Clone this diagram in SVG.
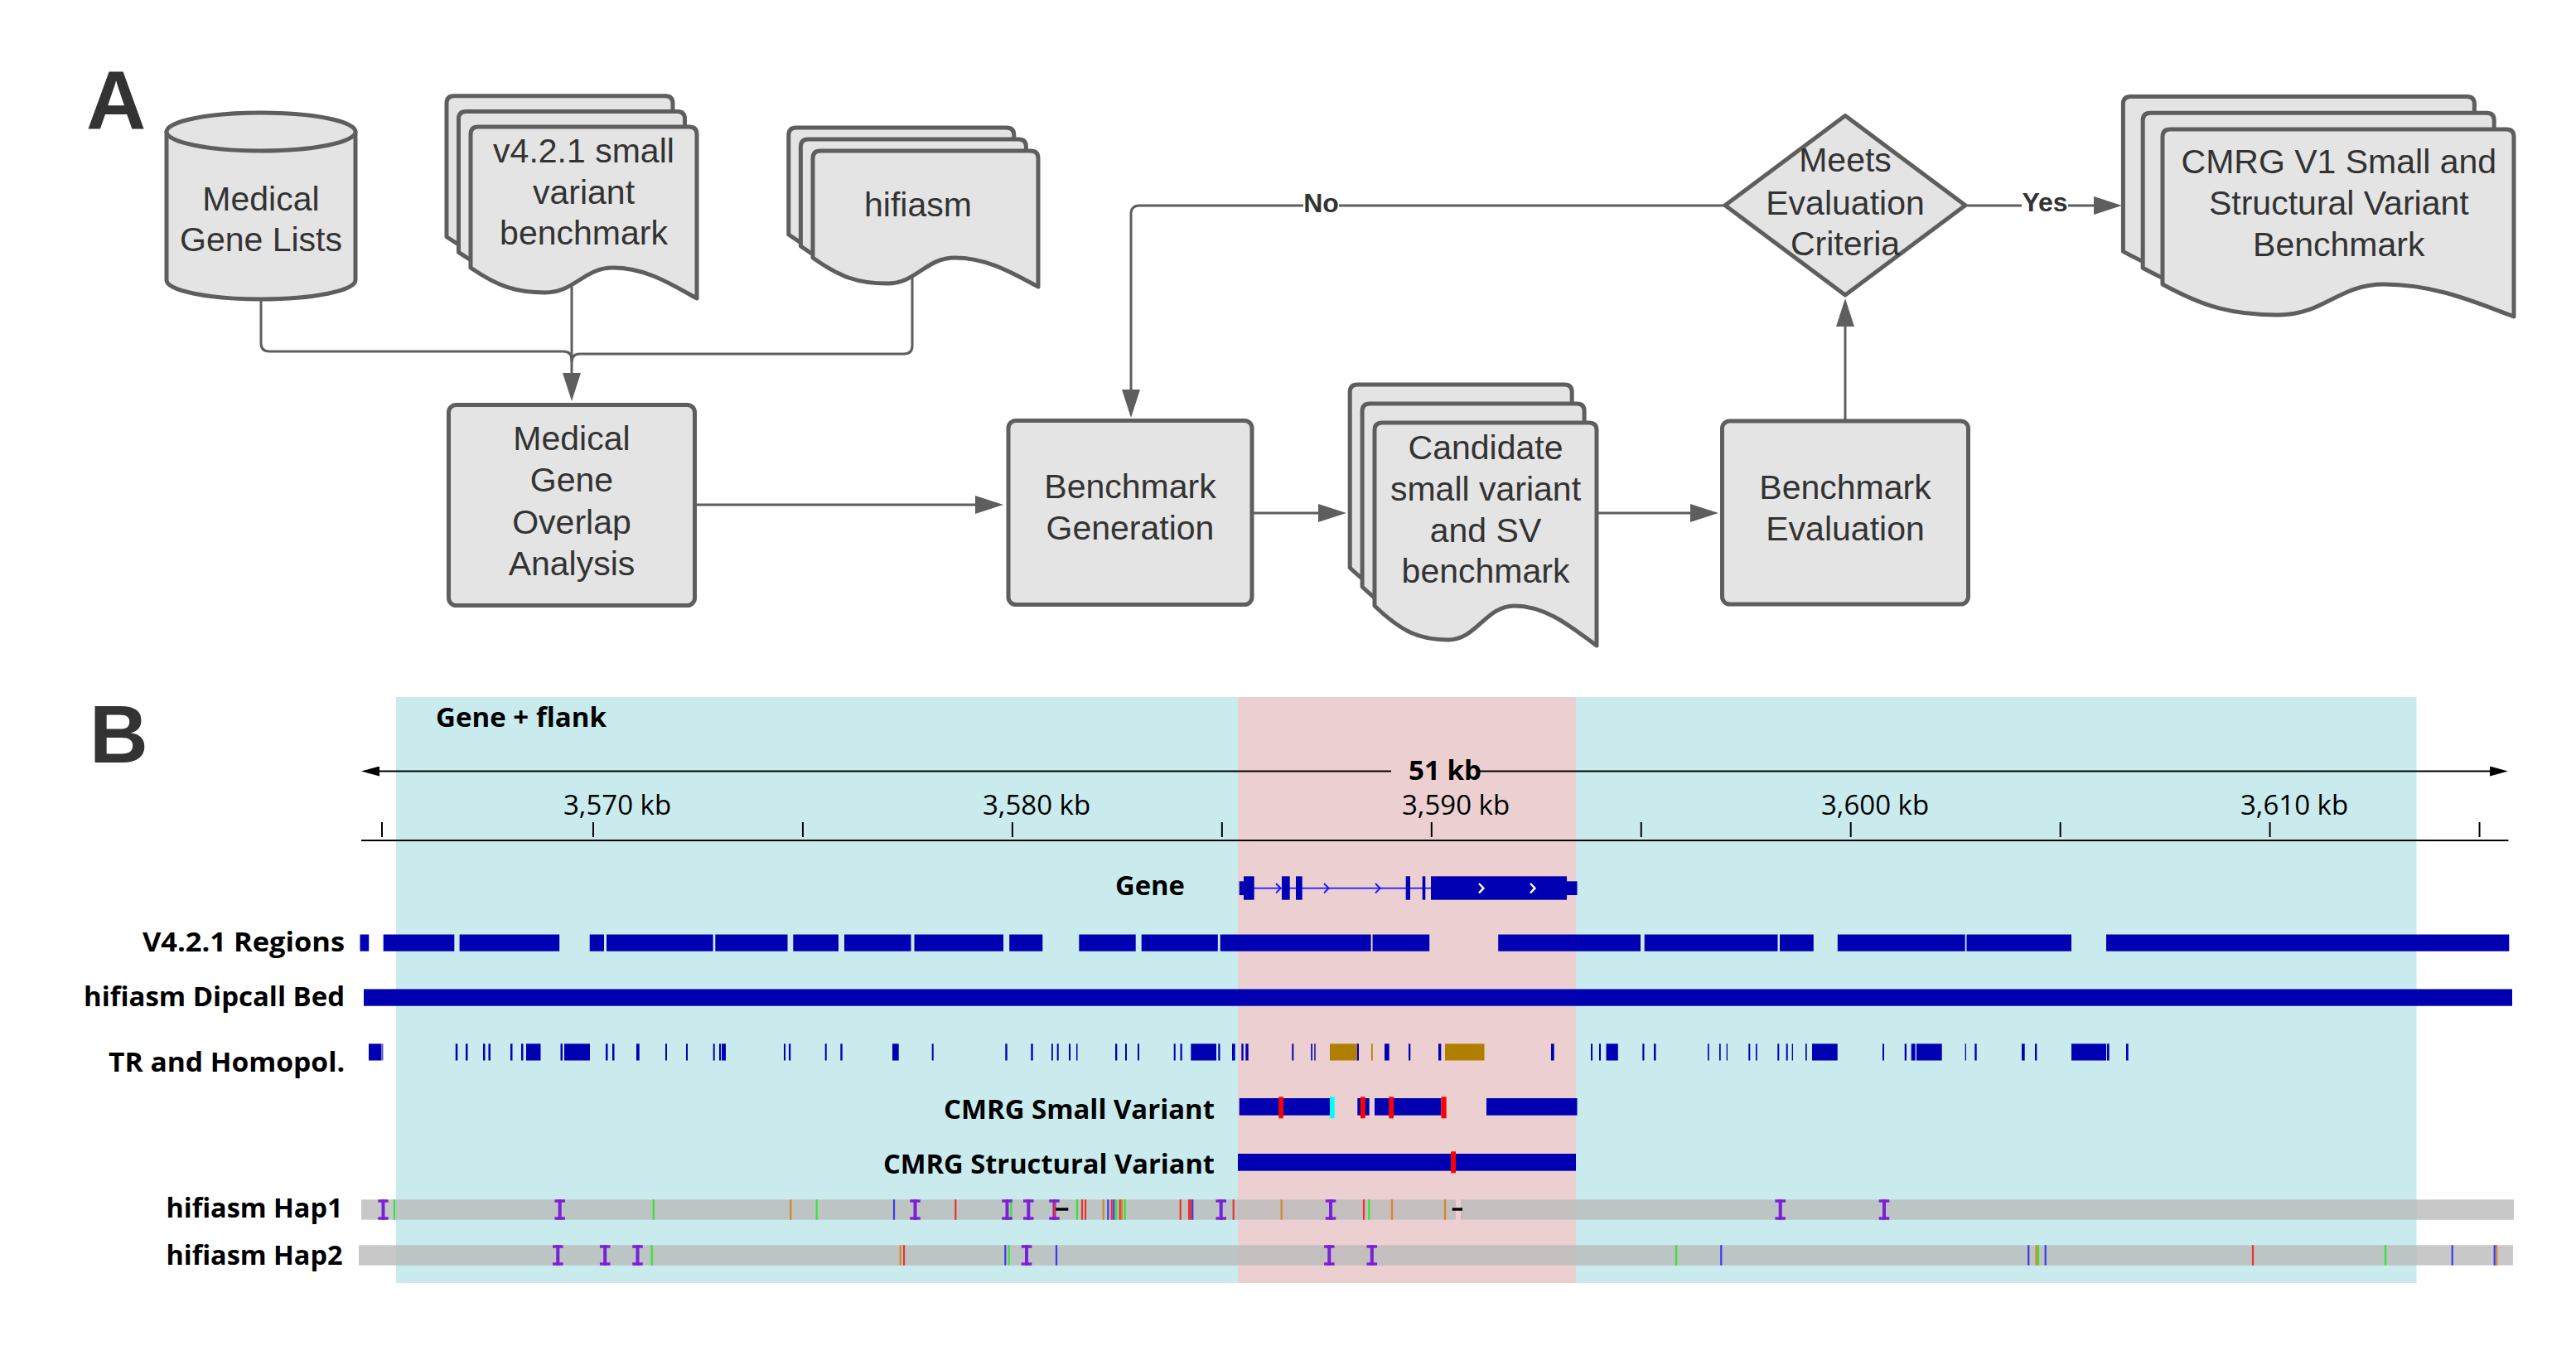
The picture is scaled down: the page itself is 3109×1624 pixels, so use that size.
<svg xmlns="http://www.w3.org/2000/svg" xmlns:xlink="http://www.w3.org/1999/xlink" width="3109" height="1624" viewBox="0 0 3109 1624">
<style>
.node{fill:#e4e4e4;stroke:#5e5e5e;stroke-width:5;stroke-linejoin:round}
.ft{font-family:"Liberation Sans",Arial,sans-serif;font-size:41px;fill:#333333;text-anchor:middle}
.conn{fill:none;stroke:#5e5e5e;stroke-width:3}
.el{font-family:"Liberation Sans",Arial,sans-serif;font-size:32px;font-weight:bold;fill:#333333;text-anchor:middle}
.big{font-family:"Liberation Sans",Arial,sans-serif;font-weight:bold;fill:#333333}
.lbl{font-family:"Open Sans","Liberation Sans",sans-serif;font-size:33px;font-weight:bold;fill:#000000;text-anchor:end}
.tl{font-family:"Open Sans","Liberation Sans",sans-serif;font-size:33px;fill:#000000}
.tb{font-family:"Open Sans","Liberation Sans",sans-serif;font-size:33px;font-weight:bold;fill:#000000}
.db{fill:#0000b2}
.gold{fill:#b07f00}
.red{fill:#ff0000}
.gray{fill:#b8b8b8;fill-opacity:0.78}
.tk{stroke-width:2.2;fill:none}
.g{stroke:#33e633}.r{stroke:#ee3030}.o{stroke:#d4852c}.b{stroke:#3a3af0}
.ins{fill:#7b1fd8}
.ruler{stroke:#000000;stroke-width:2;fill:none}
</style>
<defs>
<marker id="ah" markerUnits="userSpaceOnUse" markerWidth="34" markerHeight="22" refX="0" refY="11" orient="auto">
<path d="M0,0 L34,11 L0,22 Z" fill="#5e5e5e"/>
</marker>
<marker id="rah" markerUnits="userSpaceOnUse" markerWidth="22" markerHeight="12" refX="0" refY="6" orient="auto-start-reverse">
<path d="M0,0 L22,6 L0,12 Z" fill="#000000"/>
</marker>
<g id="ins" class="ins">
<rect x="-6.25" y="0" width="12.5" height="3.4"/>
<rect x="-2" y="0" width="4" height="24.4"/>
<rect x="-6.25" y="21" width="12.5" height="3.4"/>
</g>
<path id="docV" d="M568,323 V162 Q568,153 577,153 H832 Q841,153 841,162 V360 C813.7,345.2 781,323 740,323 C704.5,323 693.6,353 658,353 C622.6,353 600.8,345.5 568,323 Z"/>
<path id="docH" d="M981,311 V191 Q981,182 990,182 H1244 Q1253,182 1253,191 V346 C1225.8,332 1193.2,311 1152.4,311 C1117,311 1106.1,342 1070.8,342 C1035.4,342 1013.6,334.3 981,311 Z"/>
<path id="docC" d="M1659,731 V519 Q1659,510 1668,510 H1918 Q1927,510 1927,519 V779 C1900.2,759.8 1868,731 1827.8,731 C1793,731 1782.3,772 1747.4,772 C1712.6,772 1691.2,761.8 1659,731 Z"/>
<path id="docR" d="M2610,343 V165 Q2610,156 2619,156 H3025 Q3034,156 3034,165 V382 C2991.6,366.4 2940.7,343 2877.1,343 C2822,343 2805,380 2749.9,380 C2694.8,380 2660.9,370.8 2610,343 Z"/>
</defs>
<rect x="0" y="0" width="3109" height="1624" fill="#ffffff"/>

<!-- Panel A -->
<text class="big" x="104" y="156" font-size="100">A</text>

<g id="connectors">
<path class="conn" d="M315,363 V414 Q315,424 325,424 H680 Q690,424 690,434"/>
<path class="conn" d="M1101,335 V417 Q1101,427 1091,427 H700 Q690,427 690,437"/>
<path class="conn" d="M690,346 V450" marker-end="url(#ah)"/>
<path class="conn" d="M841,609 H1177" marker-end="url(#ah)"/>
<path class="conn" d="M1513,619 H1591" marker-end="url(#ah)"/>
<path class="conn" d="M1927,619 H2040" marker-end="url(#ah)"/>
<path class="conn" d="M2227,506 V394" marker-end="url(#ah)"/>
<path class="conn" d="M2080,248 H1375 Q1365,248 1365,258 V470" marker-end="url(#ah)"/>
<path class="conn" d="M2374,248 H2527" marker-end="url(#ah)"/>
<rect x="1573" y="232" width="43" height="30" fill="#ffffff"/>
<text class="el" x="1594.5" y="256">No</text>
<rect x="2440" y="232" width="56" height="30" fill="#ffffff"/>
<text class="el" x="2468" y="255">Yes</text>
</g>

<g id="medical-gene-lists">
<path class="node" d="M201,159 V338 A114,23 0 0 0 429,338 V159 Z"/>
<ellipse class="node" cx="315" cy="159" rx="114" ry="23"/>
<text class="ft" x="315" y="254">Medical</text>
<text class="ft" x="315" y="303">Gene Lists</text>
</g>

<g id="v421-benchmark">
<use href="#docV" class="node" transform="translate(-29,-37.2)"/>
<use href="#docV" class="node" transform="translate(-14.5,-18.6)"/>
<use href="#docV" class="node"/>
<text class="ft" x="704.5" y="196">v4.2.1 small</text>
<text class="ft" x="704.5" y="246">variant</text>
<text class="ft" x="704.5" y="295">benchmark</text>
</g>

<g id="hifiasm">
<use href="#docH" class="node" transform="translate(-29.2,-28)"/>
<use href="#docH" class="node" transform="translate(-14.6,-14)"/>
<use href="#docH" class="node"/>
<text class="ft" x="1108" y="261">hifiasm</text>
</g>

<g id="overlap-analysis">
<rect class="node" x="541.5" y="488.5" width="297" height="242" rx="9"/>
<text class="ft" x="690" y="543">Medical</text>
<text class="ft" x="690" y="593">Gene</text>
<text class="ft" x="690" y="644">Overlap</text>
<text class="ft" x="690" y="693.5">Analysis</text>
</g>

<g id="benchmark-generation">
<rect class="node" x="1217" y="507.5" width="294" height="222" rx="9"/>
<text class="ft" x="1364" y="600.5">Benchmark</text>
<text class="ft" x="1364" y="651">Generation</text>
</g>

<g id="candidate-benchmark">
<use href="#docC" class="node" transform="translate(-29.8,-46)"/>
<use href="#docC" class="node" transform="translate(-14.9,-23)"/>
<use href="#docC" class="node"/>
<text class="ft" x="1793" y="553.7">Candidate</text>
<text class="ft" x="1793" y="603.6">small variant</text>
<text class="ft" x="1793" y="653.5">and SV</text>
<text class="ft" x="1793" y="703.3">benchmark</text>
</g>

<g id="benchmark-evaluation">
<rect class="node" x="2078.5" y="508" width="297" height="221" rx="9"/>
<text class="ft" x="2227" y="602">Benchmark</text>
<text class="ft" x="2227" y="651.8">Evaluation</text>
</g>

<g id="meets-criteria">
<path class="node" d="M2082,247.7 L2227,139.5 L2372,247.7 L2227,356 Z"/>
<text class="ft" x="2227" y="207.3">Meets</text>
<text class="ft" x="2227" y="258.7">Evaluation</text>
<text class="ft" x="2227" y="307.8">Criteria</text>
</g>

<g id="cmrg-v1-benchmark">
<use href="#docR" class="node" transform="translate(-47.6,-39.6)"/>
<use href="#docR" class="node" transform="translate(-23.8,-19.8)"/>
<use href="#docR" class="node"/>
<text class="ft" x="2822.8" y="208.8">CMRG V1 Small and</text>
<text class="ft" x="2822.8" y="258.7">Structural Variant</text>
<text class="ft" x="2822.8" y="308.6">Benchmark</text>
</g>

<!-- Panel B -->
<text class="big" x="108" y="920" font-size="98">B</text>

<g id="highlights">
<rect x="478" y="841" width="2438.5" height="707" fill="#c9ebee"/>
<rect x="1494" y="841" width="408" height="707" fill="#ecd0d1"/>
</g>

<g id="ruler">
<text class="tb" x="526" y="877" textLength="206" lengthAdjust="spacingAndGlyphs">Gene + flank</text>
<path class="ruler" d="M458,930.5 H1679" marker-start="url(#rah)"/>
<path class="ruler" d="M1783,930.5 H3005" marker-end="url(#rah)"/>
<text class="tb" x="1700" y="941" textLength="88" lengthAdjust="spacingAndGlyphs">51 kb</text>
<path class="ruler" d="M436,1014 H3027.4"/>
<path class="ruler" d="M461,992V1010 M716,992V1010 M968.95,992V1010 M1221.9,992V1010 M1474.85,992V1010 M1727.8,992V1010 M1980.75,992V1010 M2233.7,992V1010 M2486.65,992V1010 M2739.6,992V1010 M2992.55,992V1010"/>
<text class="tl" x="680" y="982.5">3,570 kb</text>
<text class="tl" x="1186" y="982.5">3,580 kb</text>
<text class="tl" x="1692" y="982.5">3,590 kb</text>
<text class="tl" x="2198" y="982.5">3,600 kb</text>
<text class="tl" x="2704" y="982.5">3,610 kb</text>
</g>

<g id="track-labels">
<text class="lbl" x="1430" y="1080" textLength="84" lengthAdjust="spacingAndGlyphs">Gene</text>
<text class="lbl" x="416" y="1148" textLength="244" lengthAdjust="spacingAndGlyphs">V4.2.1 Regions</text>
<text class="lbl" x="416" y="1214" textLength="315" lengthAdjust="spacingAndGlyphs">hifiasm Dipcall Bed</text>
<text class="lbl" x="416" y="1293" textLength="285" lengthAdjust="spacingAndGlyphs">TR and Homopol.</text>
<text class="lbl" x="1466" y="1350" textLength="327" lengthAdjust="spacingAndGlyphs">CMRG Small Variant</text>
<text class="lbl" x="1466" y="1416" textLength="400" lengthAdjust="spacingAndGlyphs">CMRG Structural Variant</text>
<text class="lbl" x="413.5" y="1469" textLength="213" lengthAdjust="spacingAndGlyphs">hifiasm Hap1</text>
<text class="lbl" x="413.5" y="1525.6" textLength="213" lengthAdjust="spacingAndGlyphs">hifiasm Hap2</text>
</g>

<g id="gene-track">
<path d="M1513,1071.7 H1727" stroke="#1a1aff" stroke-width="1.8" fill="none"/>
<g class="db">
<rect x="1495.7" y="1063.3" width="5.3" height="16.7"/>
<rect x="1501" y="1057.3" width="12.7" height="28.4"/>
<rect x="1547" y="1057.3" width="9.7" height="28.4"/>
<rect x="1564" y="1057.3" width="7.7" height="28.4"/>
<rect x="1696.7" y="1057.3" width="5.3" height="28.4"/>
<rect x="1716.7" y="1057.3" width="3.6" height="28.4"/>
<rect x="1727" y="1057.3" width="164" height="28.4"/>
<rect x="1891" y="1063.3" width="12.5" height="16.7"/>
</g>
<path d="M1540,1066 L1545.7,1071.7 L1540,1077.4 M1598,1066 L1603.7,1071.7 L1598,1077.4 M1660,1066 L1665.7,1071.7 L1660,1077.4" stroke="#1a1aff" stroke-width="2" fill="none"/>
<path d="M1785,1066 L1790.5,1071.7 L1785,1077.4 M1847,1066 L1852.5,1071.7 L1847,1077.4" stroke="#ffffff" stroke-width="2.4" fill="none"/>
</g>

<g id="v421-regions" class="db">
<rect x="434.5" y="1127.5" width="10.7" height="20.2"/>
<rect x="462.7" y="1127.5" width="85.6" height="20.2"/>
<rect x="554.6" y="1127.5" width="120.6" height="20.2"/>
<rect x="711.7" y="1127.5" width="17.3" height="20.2"/>
<rect x="732" y="1127.5" width="128.6" height="20.2"/>
<rect x="863.3" y="1127.5" width="87.2" height="20.2"/>
<rect x="957.3" y="1127.5" width="54.7" height="20.2"/>
<rect x="1019" y="1127.5" width="80.5" height="20.2"/>
<rect x="1103.5" y="1127.5" width="107.5" height="20.2"/>
<rect x="1218.2" y="1127.5" width="40.1" height="20.2"/>
<rect x="1302.3" y="1127.5" width="68.4" height="20.2"/>
<rect x="1377.7" y="1127.5" width="92.1" height="20.2"/>
<rect x="1472.7" y="1127.5" width="181.9" height="20.2"/>
<rect x="1656.6" y="1127.5" width="68.6" height="20.2"/>
<rect x="1808.2" y="1127.5" width="171.8" height="20.2"/>
<rect x="1984.7" y="1127.5" width="160.8" height="20.2"/>
<rect x="2148" y="1127.5" width="40.8" height="20.2"/>
<rect x="2217.8" y="1127.5" width="153.9" height="20.2"/>
<rect x="2373.5" y="1127.5" width="126.5" height="20.2"/>
<rect x="2542" y="1127.5" width="486.3" height="20.2"/>
</g>

<g id="dipcall-bed" class="db">
<rect x="439" y="1193.4" width="2593" height="20.3"/>
</g>

<g id="tr-homopol">
<g class="db">
<rect x="445" y="1259.3" width="15.5" height="20.2"/>
<rect x="461.3" y="1259.3" width="1" height="20.2"/>
<rect x="549.8" y="1259.3" width="2.5" height="20.2"/>
<rect x="562" y="1259.3" width="2.5" height="20.2"/>
<rect x="583" y="1259.3" width="2.5" height="20.2"/>
<rect x="589.5" y="1259.3" width="2.5" height="20.2"/>
<rect x="616" y="1259.3" width="2.5" height="20.2"/>
<rect x="629" y="1259.3" width="2.5" height="20.2"/>
<rect x="635" y="1259.3" width="17.5" height="20.2"/>
<rect x="676.5" y="1259.3" width="2.5" height="20.2"/>
<rect x="681" y="1259.3" width="31" height="20.2"/>
<rect x="731" y="1259.3" width="2.5" height="20.2"/>
<rect x="739" y="1259.3" width="2.5" height="20.2"/>
<rect x="768" y="1259.3" width="3.7" height="20.2"/>
<rect x="803" y="1259.3" width="2" height="20.2"/>
<rect x="828" y="1259.3" width="2" height="20.2"/>
<rect x="860.7" y="1259.3" width="2" height="20.2"/>
<rect x="868" y="1259.3" width="2" height="20.2"/>
<rect x="871" y="1259.3" width="5" height="20.2"/>
<rect x="946" y="1259.3" width="2" height="20.2"/>
<rect x="952" y="1259.3" width="2.3" height="20.2"/>
<rect x="995.7" y="1259.3" width="2" height="20.2"/>
<rect x="1014.3" y="1259.3" width="2.4" height="20.2"/>
<rect x="1077" y="1259.3" width="7.7" height="20.2"/>
<rect x="1124.7" y="1259.3" width="2" height="20.2"/>
<rect x="1213.3" y="1259.3" width="2.4" height="20.2"/>
<rect x="1244.3" y="1259.3" width="2.4" height="20.2"/>
<rect x="1269" y="1259.3" width="1.8" height="20.2"/>
<rect x="1275.7" y="1259.3" width="2" height="20.2"/>
<rect x="1290" y="1259.3" width="2" height="20.2"/>
<rect x="1299" y="1259.3" width="1.5" height="20.2"/>
<rect x="1346" y="1259.3" width="2.3" height="20.2"/>
<rect x="1358" y="1259.3" width="2" height="20.2"/>
<rect x="1373" y="1259.3" width="2" height="20.2"/>
<rect x="1416.7" y="1259.3" width="2" height="20.2"/>
<rect x="1424.5" y="1259.3" width="2.2" height="20.2"/>
<rect x="1437.3" y="1259.3" width="30.7" height="20.2"/>
<rect x="1470.3" y="1259.3" width="2.2" height="20.2"/>
<rect x="1487" y="1259.3" width="3.7" height="20.2"/>
<rect x="1498.3" y="1259.3" width="2.4" height="20.2"/>
<rect x="1503.3" y="1259.3" width="3.4" height="20.2"/>
<rect x="1559.3" y="1259.3" width="2" height="20.2"/>
<rect x="1582.3" y="1259.3" width="1.7" height="20.2"/>
<rect x="1586.3" y="1259.3" width="1.4" height="20.2"/>
<rect x="1637.7" y="1259.3" width="2.3" height="20.2"/>
<rect x="1671" y="1259.3" width="5.7" height="20.2"/>
<rect x="1700" y="1259.3" width="2.3" height="20.2"/>
<rect x="1736" y="1259.3" width="3.3" height="20.2"/>
<rect x="1872" y="1259.3" width="3.7" height="20.2"/>
<rect x="1920" y="1259.3" width="2" height="20.2"/>
<rect x="1930" y="1259.3" width="2" height="20.2"/>
<rect x="1938.5" y="1259.3" width="14.3" height="20.2"/>
<rect x="1982.3" y="1259.3" width="2.2" height="20.2"/>
<rect x="1996" y="1259.3" width="2.5" height="20.2"/>
<rect x="2061" y="1259.3" width="1.7" height="20.2"/>
<rect x="2075" y="1259.3" width="1.7" height="20.2"/>
<rect x="2083.7" y="1259.3" width="1.3" height="20.2"/>
<rect x="2110.3" y="1259.3" width="2" height="20.2"/>
<rect x="2119" y="1259.3" width="1.7" height="20.2"/>
<rect x="2145.3" y="1259.3" width="2" height="20.2"/>
<rect x="2155.7" y="1259.3" width="2" height="20.2"/>
<rect x="2162.7" y="1259.3" width="1.3" height="20.2"/>
<rect x="2179" y="1259.3" width="1.7" height="20.2"/>
<rect x="2187" y="1259.3" width="30.7" height="20.2"/>
<rect x="2272" y="1259.3" width="2" height="20.2"/>
<rect x="2298.7" y="1259.3" width="2.3" height="20.2"/>
<rect x="2306.7" y="1259.3" width="5" height="20.2"/>
<rect x="2313" y="1259.3" width="30.7" height="20.2"/>
<rect x="2371.7" y="1259.3" width="1.3" height="20.2"/>
<rect x="2383.3" y="1259.3" width="2.4" height="20.2"/>
<rect x="2440" y="1259.3" width="3.7" height="20.2"/>
<rect x="2456" y="1259.3" width="2.3" height="20.2"/>
<rect x="2500" y="1259.3" width="42" height="20.2"/>
<rect x="2543" y="1259.3" width="2.7" height="20.2"/>
<rect x="2566" y="1259.3" width="2.7" height="20.2"/>
</g>
<g class="gold">
<rect x="1605" y="1259.3" width="32.7" height="20.2"/>
<rect x="1655" y="1259.3" width="1.7" height="20.2"/>
<rect x="1744" y="1259.3" width="47.5" height="20.2"/>
</g>
</g>

<g id="cmrg-small-variant">
<g class="db">
<rect x="1495.7" y="1325" width="109.3" height="20.7"/>
<rect x="1638.3" y="1325" width="14.4" height="20.7"/>
<rect x="1659" y="1325" width="80.5" height="20.7"/>
<rect x="1794" y="1325" width="109.5" height="20.7"/>
</g>
<rect x="1605" y="1323.3" width="5.7" height="26" fill="#00ffff"/>
<g class="red">
<rect x="1543.3" y="1323.3" width="5.6" height="26"/>
<rect x="1642" y="1323.3" width="5.7" height="26"/>
<rect x="1676.2" y="1323.3" width="5.8" height="26"/>
<rect x="1739.5" y="1323.3" width="6.2" height="26"/>
</g>
</g>

<g id="cmrg-structural-variant">
<rect class="db" x="1494" y="1392" width="408" height="20.7"/>
<rect class="red" x="1751.2" y="1389.3" width="5.8" height="26"/>
</g>

<g id="hifiasm-hap1">
<rect class="gray" x="436" y="1447.3" width="1321" height="24.4"/>
<rect class="gray" x="1763" y="1447.3" width="1271" height="24.4"/>
<path class="tk g" d="M476,1447.3V1471.7 M788.7,1447.3V1471.7 M985.7,1447.3V1471.7 M1220.3,1447.3V1471.7 M1300,1447.3V1471.7 M1347.3,1447.3V1471.7 M1357.7,1447.3V1471.7 M1652.3,1447.3V1471.7"/>
<path class="tk r" d="M1153.3,1447.3V1471.7 M1306,1447.3V1471.7 M1310,1447.3V1471.7 M1341.7,1447.3V1471.7 M1351.7,1447.3V1471.7 M1424.7,1447.3V1471.7 M1435,1447.3V1471.7 M1437.2,1447.3V1471.7 M1488.7,1447.3V1471.7 M1646,1447.3V1471.7"/>
<path class="tk o" d="M954.3,1447.3V1471.7 M1331.7,1447.3V1471.7 M1354,1447.3V1471.7 M1546.7,1447.3V1471.7 M1680,1447.3V1471.7 M1744,1447.3V1471.7"/>
<path class="tk b" d="M1079,1447.3V1471.7 M1337.3,1447.3V1471.7 M1344.3,1447.3V1471.7 M1439.3,1447.3V1471.7"/>
<rect x="1273.3" y="1457.3" width="16" height="3.4" fill="#000000"/>
<rect x="1752.7" y="1457.3" width="12.3" height="3.4" fill="#000000"/>
<use href="#ins" x="462.5" y="1447.3"/>
<use href="#ins" x="675.7" y="1447.3"/>
<use href="#ins" x="1104.5" y="1447.3"/>
<use href="#ins" x="1215.5" y="1447.3"/>
<use href="#ins" x="1241.3" y="1447.3"/>
<use href="#ins" x="1272.5" y="1447.3"/>
<use href="#ins" x="1473.7" y="1447.3"/>
<use href="#ins" x="1606" y="1447.3"/>
<use href="#ins" x="2148.7" y="1447.3"/>
<use href="#ins" x="2274" y="1447.3"/>
<path class="tk r" d="M1272.7,1450.7V1468.3"/>
</g>

<g id="hifiasm-hap2">
<rect class="gray" x="433" y="1502.3" width="2600" height="24.4"/>
<path class="tk g" d="M786.7,1502.3V1526.7 M1217.7,1502.3V1526.7 M2023,1502.3V1526.7 M2460,1502.3V1526.7 M2879,1502.3V1526.7"/>
<path class="tk r" d="M1091,1502.3V1526.7 M2719,1502.3V1526.7"/>
<path class="tk o" d="M1086.7,1502.3V1526.7 M2457.7,1502.3V1526.7 M3013.3,1502.3V1526.7"/>
<path class="tk b" d="M1213.3,1502.3V1526.7 M1275,1502.3V1526.7 M2077.3,1502.3V1526.7 M2448.3,1502.3V1526.7 M2468.7,1502.3V1526.7 M2959.7,1502.3V1526.7 M3010.7,1502.3V1526.7"/>
<use href="#ins" x="673.3" y="1502.3"/>
<use href="#ins" x="730.2" y="1502.3"/>
<use href="#ins" x="769.5" y="1502.3"/>
<use href="#ins" x="1239" y="1502.3"/>
<use href="#ins" x="1604.3" y="1502.3"/>
<use href="#ins" x="1655.8" y="1502.3"/>
</g>
</svg>
